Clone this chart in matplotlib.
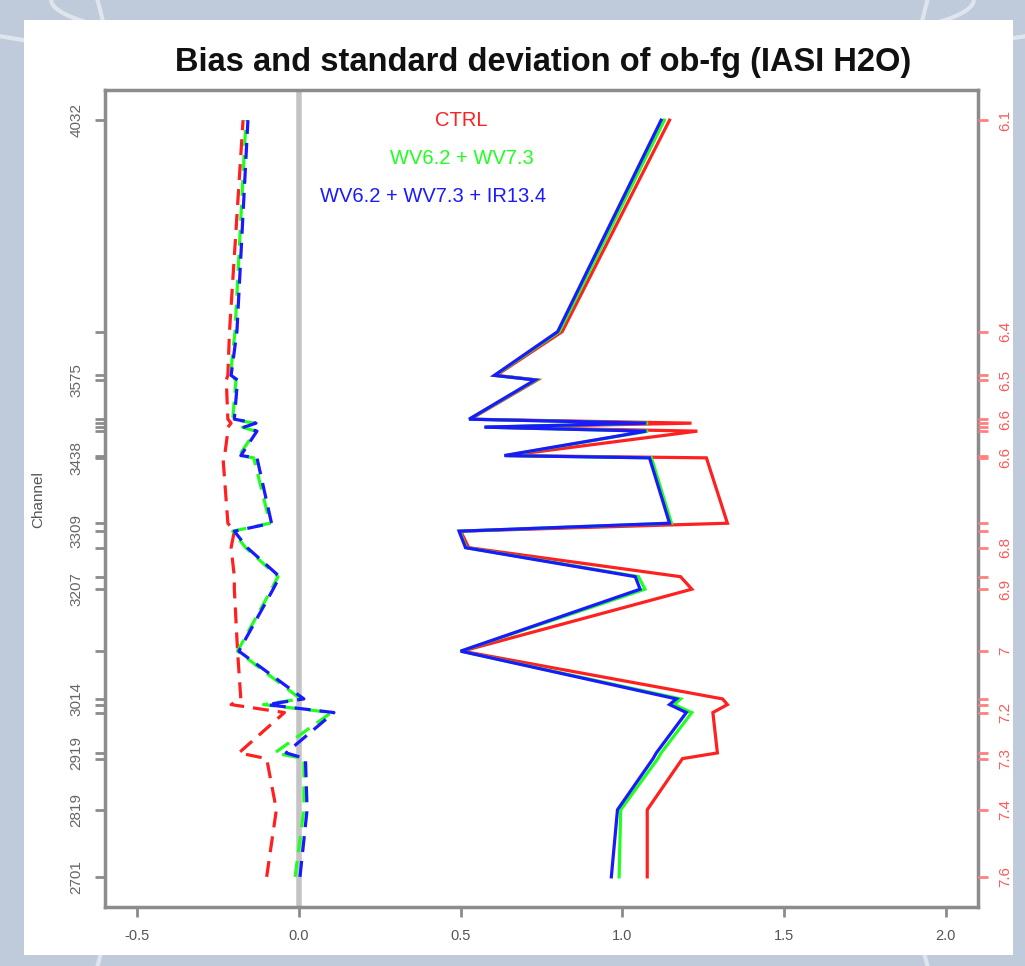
import matplotlib
matplotlib.use("Agg")
import matplotlib.pyplot as plt
from matplotlib.patches import Rectangle, Arc

plt.rcParams['font.family'] = ['Liberation Sans', 'DejaVu Sans']
plt.rcParams['lines.scale_dashes'] = False

# ---------------- data ----------------
channels = [2701, 2819, 2909, 2919, 2990, 3004, 3014, 3098, 3207, 3229, 3280,
            3309, 3323, 3438, 3442, 3485, 3492, 3499, 3506, 3575, 3583, 3660, 4032]

std_ctrl = [1.077, 1.077, 1.186, 1.294, 1.28, 1.325, 1.31, 0.505, 1.215, 1.18, 0.525,
            0.50, 1.325, 1.26, 0.645, 1.232, 0.58, 1.214, 0.53, 0.737, 0.61, 0.814, 1.146]
std_wv = [0.99, 0.995, 1.11, 1.12, 1.215, 1.16, 1.18, 0.50, 1.07, 1.05, 0.517,
          0.497, 1.152, 1.09, 0.637, 1.08, 0.575, 1.08, 0.527, 0.733, 0.606, 0.805, 1.13]
std_wvir = [0.966, 0.985, 1.095, 1.105, 1.198, 1.146, 1.167, 0.50, 1.055, 1.04, 0.515,
            0.495, 1.146, 1.084, 0.635, 1.074, 0.573, 1.074, 0.526, 0.73, 0.604, 0.80, 1.12]

bias_ctrl = [-0.10, -0.07, -0.10, -0.186, -0.045, -0.21, -0.18, -0.19, -0.20, -0.20, -0.21,
             -0.20, -0.22, -0.235, -0.23, -0.22, -0.22, -0.21, -0.22, -0.225, -0.22, -0.215, -0.173]
bias_wv = [-0.012, 0.015, 0.015, -0.075, 0.10, -0.11, 0.005, -0.19, -0.085, -0.065, -0.165,
           -0.205, -0.09, -0.14, -0.185, -0.135, -0.175, -0.14, -0.205, -0.195, -0.212, -0.198, -0.164]
bias_wvir = [0.003, 0.025, 0.02, -0.04, 0.108, -0.10, 0.015, -0.186, -0.08, -0.06, -0.16,
             -0.20, -0.085, -0.13, -0.18, -0.13, -0.17, -0.133, -0.20, -0.19, -0.21, -0.192, -0.158]

left_labels = ['2701', '2819', '', '2919', '', '', '3014', '', '3207', '', '',
               '3309', '', '3438', '', '', '', '', '', '3575', '', '', '4032']
right_labels = ['7.6', '7.4', '7.3', '', '7.2', '', '', '7', '6.9', '', '6.8',
                '', '', '6.6', '', '', '', '', '6.6', '6.5', '', '6.4', '6.1']

xticks = [-0.5, 0.0, 0.5, 1.0, 1.5, 2.0]
xtick_labels = ['-0.5', '0.0', '0.5', '1.0', '1.5', '2.0']

series_names = ['CTRL', 'WV6.2 + WV7.3', 'WV6.2 + WV7.3 + IR13.4']
series_colors = ['#ff2020', '#20ff20', '#1a1aff']

# ---------------- figure ----------------
W, H = 1025, 966
fig = plt.figure(figsize=(W / 100, H / 100), dpi=100)
fig.patch.set_facecolor('#bfcbda')

# decorative swirl arcs in the background
for (cx, cy, w, h) in [(0.5, 1.05, 1.4, 0.25), (0.5, 1.0, 0.9, 0.12),
                       (-0.1, 0.5, 0.5, 1.6), (1.1, 0.5, 0.5, 1.6)]:
    fig.patches.append(Arc((cx, cy), w, h, transform=fig.transFigure,
                           color='white', lw=3, alpha=0.5, zorder=-3))

fig.patches.append(Rectangle((24 / W, 1 - 955 / H), (1013 - 24) / W, (955 - 20) / H,
                             transform=fig.transFigure, facecolor='white',
                             edgecolor='none', zorder=-2))

left, right, top, bottom = 105, 978, 90, 907
ax = fig.add_axes([left / W, 1 - bottom / H, (right - left) / W, (bottom - top) / H])
ax.set_facecolor('white')

ax.axvline(0.0, color='#c4c4c4', lw=4, zorder=1)

for std, bias, col in zip([std_ctrl, std_wv, std_wvir],
                          [bias_ctrl, bias_wv, bias_wvir], series_colors):
    ax.plot(std, channels, color=col, lw=2.3, zorder=3, solid_joinstyle='miter')
    ax.plot(bias, channels, color=col, lw=2.3, zorder=3, dashes=(11.5, 6.5))

ax.set_xlim(-0.6, 2.1)
ax.set_ylim(2648, 4085)

for sp in ax.spines.values():
    sp.set_color('#8c8c8c')
    sp.set_linewidth(2.5)

ax.set_xticks(xticks)
ax.set_xticklabels(xtick_labels)
ax.tick_params(axis='x', colors='#8c8c8c', length=7, width=2, labelsize=10.5,
               labelcolor='#555555', pad=9)

ax.set_yticks(channels)
ax.set_yticklabels(left_labels, rotation=90, va='center')
ax.tick_params(axis='y', colors='#8c8c8c', length=7, width=2, labelsize=11,
               labelcolor='#666666', pad=8.5)

ax2 = ax.twinx()
ax2.set_ylim(ax.get_ylim())
ax2.set_yticks(channels)
ax2.set_yticklabels(right_labels, rotation=90, va='center')
ax2.tick_params(axis='y', colors='#ff8080', length=7.5, width=2, labelsize=11,
                labelcolor='#ff5a5a', pad=7)
for sp in ax2.spines.values():
    sp.set_visible(False)

fig.text(38 / W, 1 - 500 / H, 'Channel', rotation=90, ha='center', va='center',
         fontsize=11, color='#555555')

fig.text(543 / W, 1 - 62 / H, 'Bias and standard deviation of ob-fg (IASI H2O)',
         ha='center', va='center', fontsize=23.5, fontweight='bold', color='#111111')

for name, col, (px, py) in zip(series_names, series_colors,
                               [(461, 120), (462, 158), (433, 197)]):
    fig.text(px / W, 1 - py / H, name, ha='center', va='center', fontsize=14.5, color=col)

fig.savefig('out.png', dpi=100, facecolor=fig.get_facecolor())
